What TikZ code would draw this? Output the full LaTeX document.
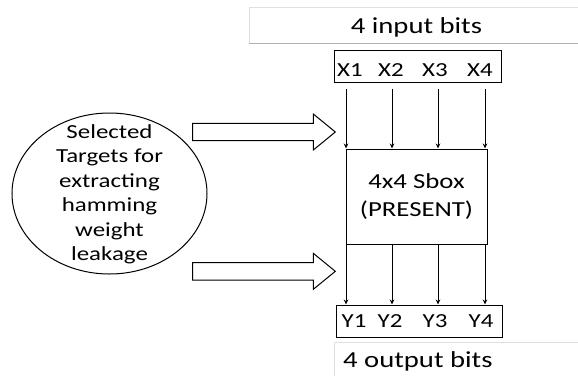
\documentclass[tikz,border=0pt]{standalone}
\usepackage{fontspec}
\setmainfont[FakeStretch=1.25]{Carlito}
\usetikzlibrary{arrows.meta,shapes.geometric}
\begin{document}
\begin{tikzpicture}[x=1bp,y=-1bp,
  frame/.style={draw=black, line width=1bp},
  bitlabel/.style={font=\fontsize{20}{24}\selectfont, inner sep=0pt, anchor=base},
  caption/.style={font=\fontsize{23}{27}\selectfont, inner sep=0pt, anchor=base},
  wire/.style={draw=black, line width=0.9bp, -{Stealth[length=5bp,width=4.5bp]}},
  hollow/.style={draw=black, line width=1bp, fill=white, line join=miter},
  pane/.style={draw=black!12, line width=0.8bp},
  paneedge/.style={draw=black!30, line width=0.8bp}]
\useasboundingbox (0,0) rectangle (578,376);

% header pane with the input caption
\draw[pane] (249,43) -- (249,7) -- (578,7);
\draw[paneedge] (249,43) -- (578,43);
\node[caption] (incap) at (416.5,33) {4 input bits};

% input bit register
\node[frame, minimum width=167bp, minimum height=32bp, inner sep=0pt] (xbox) at (417.5,66) {};
\node[bitlabel] (x1) at (350,76) {X1};
\node[bitlabel] (x2) at (391,76) {X2};
\node[bitlabel] (x3) at (435,76) {X3};
\node[bitlabel] (x4) at (480,76) {X4};

% the S-box
\node[frame, minimum width=141bp, minimum height=95bp, inner sep=0pt, align=center,
      font=\fontsize{21.5}{29}\selectfont] (sbox) at (416.5,196.5) {4x4 Sbox\\(PRESENT)};

% output bit register
\node[frame, minimum width=166bp, minimum height=32bp, inner sep=0pt] (ybox) at (419,321) {};
\node[bitlabel] (y1) at (354,327) {Y1};
\node[bitlabel] (y2) at (390,327) {Y2};
\node[bitlabel] (y3) at (435,327) {Y3};
\node[bitlabel] (y4) at (481,327) {Y4};

% bit wires: input register -> S-box -> output register
\coordinate (w1) at (346,89);
\coordinate (w2) at (392,89);
\coordinate (w3) at (438,89);
\coordinate (w4) at (485,89);
\foreach \w in {w1,w2,w3,w4}{
  \draw[wire] (\w) -- (sbox.north -| \w);
  \draw[wire] (sbox.south -| \w) -- (ybox.north -| \w);
}

% footer pane with the output caption
\draw[pane] (334,376) -- (334,342) -- (578,342);
\node[caption, anchor=base west] (outcap) at (343,367) {4 output bits};

% the leakage targets
\node[draw=black, line width=1bp, ellipse, minimum width=195bp, minimum height=161bp, inner sep=0pt] (tgt) at (109.5,193.5) {};
\node[align=center, inner sep=0pt, font=\fontsize{20}{24.6}\selectfont] (tgttext) at (109.5,194.5)
  {Selected\\Targets for\\extracting\\hamming\\weight\\leakage};

% hollow pointers towards the S-box input and output
\draw[hollow] (192.7,123.3) -- (313.3,123.3) -- (313.3,114) -- (335.3,132)
  -- (313.3,150) -- (313.3,140.7) -- (192.7,140.7) -- cycle;
\draw[hollow] (192.7,262.7) -- (313.3,262.7) -- (313.3,253.3) -- (335.3,271.3)
  -- (313.3,289.3) -- (313.3,280) -- (192.7,280) -- cycle;
\end{tikzpicture}
\end{document}
